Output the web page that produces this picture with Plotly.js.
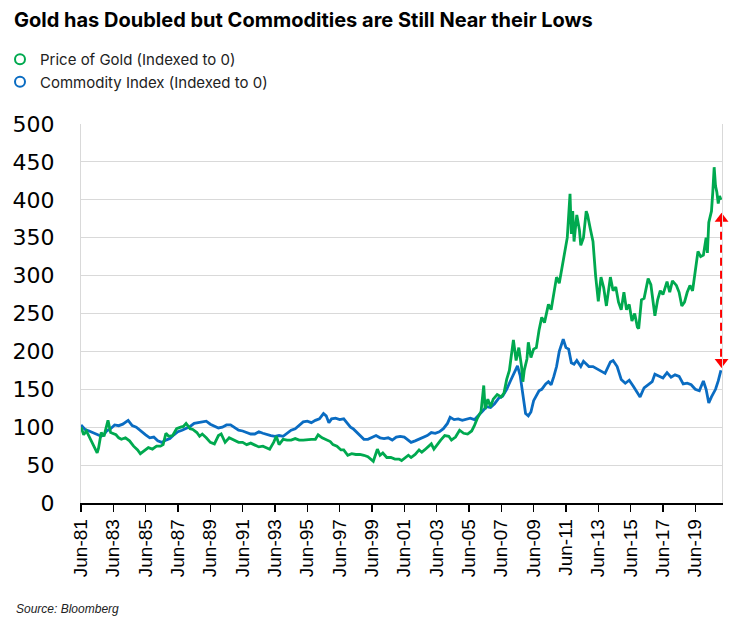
<!DOCTYPE html>
<html>
<head>
<meta charset="utf-8">
<script src="https://cdn.plot.ly/plotly-3.0.1.min.js"></script>
<style>html,body{margin:0;padding:0;background:#fff;}#chart{width:750px;height:631px;}</style>
</head>
<body>
<div id="chart"></div>
<script>
// Price of Gold (indexed)
const goldDates = ["1981-06","1981-08","1981-10","1981-12","1982-02","1982-04","1982-06","1982-07","1982-09","1982-11",
"1983-02","1983-04","1983-06","1983-08","1983-10","1983-12","1984-03","1984-06","1984-09","1984-12",
"1985-02","1985-05","1985-08","1985-11","1986-02","1986-05","1986-07","1986-09","1986-11","1987-02",
"1987-05","1987-08","1987-10","1987-12","1988-03","1988-05","1988-08","1988-10","1988-12","1989-03",
"1989-06","1989-09","1989-12","1990-02","1990-05","1990-08","1990-10","1990-12","1991-03","1991-06",
"1991-09","1991-12","1992-03","1992-06","1992-09","1992-12","1993-02","1993-05","1993-07","1993-09",
"1993-12","1994-03","1994-06","1994-09","1994-12","1995-03","1995-06","1995-09","1995-12","1996-02",
"1996-05","1996-08","1996-11","1997-01","1997-04","1997-07","1997-09","1997-12","1998-03","1998-06",
"1998-09","1998-12","1999-03","1999-07","1999-10","1999-12","2000-02","2000-05","2000-08","2000-11",
"2001-02","2001-04","2001-06","2001-09","2001-11","2002-02","2002-05","2002-07","2002-09","2002-12",
"2003-02","2003-04","2003-06","2003-09","2003-12","2004-03","2004-05","2004-08","2004-11","2005-02",
"2005-05","2005-08","2005-10","2005-12","2006-03","2006-05","2006-06","2006-08","2006-10","2006-12",
"2007-03","2007-06","2007-08","2007-10","2007-12","2008-02","2008-03","2008-05","2008-07","2008-09",
"2008-10","2008-11","2009-01","2009-02","2009-04","2009-06","2009-08","2009-10","2009-12","2010-02",
"2010-05","2010-07","2010-09","2010-11","2011-01","2011-03","2011-05","2011-07","2011-09","2011-10",
"2011-11","2011-12","2012-02","2012-04","2012-05","2012-07","2012-09","2012-10","2012-12","2013-02",
"2013-04","2013-06","2013-08","2013-10","2013-12","2014-03","2014-05","2014-07","2014-09","2014-11",
"2015-01","2015-03","2015-05","2015-07","2015-09","2015-11","2015-12","2016-02","2016-04","2016-07",
"2016-09","2016-11","2016-12","2017-02","2017-04","2017-06","2017-09","2017-11","2018-01","2018-04",
"2018-06","2018-08","2018-10","2018-12","2019-02","2019-04","2019-06","2019-08","2019-10","2019-12",
"2020-02","2020-03","2020-04","2020-06","2020-07","2020-08","2020-09","2020-10","2020-11","2020-12","2021-01"];
const goldValues = [100,90,95,88,80,75,66,72,93,88,
109,93,92,90,86,84,86,82,75,70,
65,69,73,71,75,75,77,92,88,89,
98,100,101,105,98,97,93,88,91,86,
80,78,89,91,80,86,84,83,80,80,
77,79,76,74,75,72,71,80,88,77,
84,83,83,85,83,83,84,84,84,90,
86,84,81,77,75,70,70,63,65,64,
64,63,61,55,71,63,66,60,60,58,
58,56,59,63,60,64,70,67,70,75,
78,71,76,83,89,88,83,87,96,92,
91,95,102,111,121,155,124,137,127,137,
143,140,145,163,175,200,215,188,205,180,
160,175,190,212,192,203,205,228,245,238,
262,255,275,298,290,310,330,350,408,355,
385,345,380,360,340,350,385,380,362,345,
300,266,298,284,260,298,280,285,265,255,
278,255,262,240,250,232,230,268,270,296,
288,260,247,268,280,275,292,278,293,287,
278,260,265,278,287,280,305,332,325,327,
350,330,370,385,410,443,418,410,395,405,400];

// Commodity Index (indexed)
const commDates = ["1981-06","1981-09","1981-12","1982-03","1982-06","1982-09","1982-11","1983-01","1983-04","1983-07",
"1983-10","1984-01","1984-05","1984-08","1984-11","1985-03","1985-06","1985-09","1985-12","1986-03",
"1986-06","1986-09","1986-12","1987-03","1987-06","1987-09","1987-12","1988-03","1988-06","1988-09",
"1988-12","1989-03","1989-06","1989-09","1989-12","1990-03","1990-06","1990-09","1990-12","1991-03",
"1991-06","1991-09","1991-12","1992-03","1992-06","1992-09","1992-12","1993-03","1993-06","1993-09",
"1993-12","1994-03","1994-06","1994-09","1994-12","1995-03","1995-06","1995-09","1995-12","1996-03",
"1996-06","1996-08","1996-10","1996-12","1997-03","1997-06","1997-09","1997-12","1998-02","1998-04",
"1998-07","1998-09","1998-12","1999-03","1999-06","1999-09","1999-12","2000-03","2000-06","2000-09",
"2000-12","2001-03","2001-06","2001-09","2001-11","2002-02","2002-05","2002-08","2002-11","2003-02",
"2003-05","2003-08","2003-11","2004-02","2004-04","2004-07","2004-10","2005-01","2005-04","2005-07",
"2005-10","2006-01","2006-04","2006-07","2006-10","2007-01","2007-04","2007-07","2007-10","2008-01",
"2008-04","2008-06","2008-08","2008-10","2008-12","2009-02","2009-04","2009-06","2009-08","2009-10",
"2009-12","2010-03","2010-05","2010-07","2010-09","2010-11","2011-01","2011-03","2011-04","2011-06",
"2011-08","2011-10","2011-12","2012-02","2012-05","2012-07","2012-09","2012-11","2013-02","2013-05",
"2013-08","2013-11","2014-03","2014-05","2014-08","2014-11","2015-02","2015-05","2015-08","2015-11",
"2016-01","2016-04","2016-07","2016-10","2016-12","2017-03","2017-06","2017-09","2017-12","2018-03",
"2018-06","2018-09","2018-12","2019-03","2019-06","2019-09","2019-12","2020-02","2020-04","2020-06",
"2020-09","2020-11","2021-01"];
const commValues = [103,97,95,93,90,88,90,95,98,103,
102,104,109,102,100,95,90,86,87,82,
80,83,85,90,94,96,98,101,105,106,
108,108,104,101,99,100,103,103,99,96,
95,93,91,91,94,92,90,89,88,89,
88,92,96,98,102,107,108,106,109,111,
118,115,106,111,112,110,111,104,100,98,
93,90,84,84,86,89,86,85,86,83,
87,88,87,82,80,82,84,87,89,93,
92,94,98,105,113,110,111,109,111,112,
110,115,121,127,126,131,138,141,150,162,
173,181,168,140,118,115,120,135,141,148,
150,157,160,156,167,180,200,212,216,205,
203,185,183,188,180,187,183,180,180,177,
174,171,186,188,180,163,158,162,154,146,
140,152,156,160,170,167,165,172,166,169,
167,157,158,156,150,148,161,150,132,140,
150,161,175];

// Dashed double arrow between the two series at the end
const arrowDates = ["2021-01-15","2021-01-15"];
const arrowValues = [375, 186];

// Axis ticks
const tickDates = ["1981-06-01","1983-06-01","1985-06-01","1987-06-01","1989-06-01","1991-06-01","1993-06-01","1995-06-01","1997-06-01","1999-06-01",
"2001-06-01","2003-06-01","2005-06-01","2007-06-01","2009-06-01","2011-06-01","2013-06-01","2015-06-01","2017-06-01","2019-06-01"];
const tickLabels = ["Jun-81","Jun-83","Jun-85","Jun-87","Jun-89","Jun-91","Jun-93","Jun-95","Jun-97","Jun-99",
"Jun-01","Jun-03","Jun-05","Jun-07","Jun-09","Jun-11","Jun-13","Jun-15","Jun-17","Jun-19"];

const GREEN = "#00A94F";
const BLUE = "#0A6CC2";

const traces = [
  {x: commDates, y: commValues, type: "scatter", mode: "lines", line: {color: BLUE, width: 2.8}, showlegend: false, hoverinfo: "skip"},
  {x: goldDates, y: goldValues, type: "scatter", mode: "lines", line: {color: GREEN, width: 2.8}, showlegend: false, hoverinfo: "skip"},
  {x: arrowDates, y: arrowValues, type: "scatter", mode: "lines+markers", cliponaxis: false,
   line: {color: "#FF0000", width: 3, dash: "8px,5px"},
   marker: {symbol: ["triangle-up","triangle-down"], size: 12, color: "#FF0000"}, showlegend: false, hoverinfo: "skip"},
  {x: [null], y: [null], type: "scatter", mode: "markers", name: "Price of Gold (Indexed to 0)",
   marker: {symbol: "circle-open", size: 10, color: GREEN, line: {width: 2, color: GREEN}}},
  {x: [null], y: [null], type: "scatter", mode: "markers", name: "Commodity Index (Indexed to 0)",
   marker: {symbol: "circle-open", size: 10, color: BLUE, line: {width: 2, color: BLUE}}}
];

const layout = {
  width: 750, height: 631,
  margin: {l: 81, r: 28, t: 124, b: 128, autoexpand: false},
  paper_bgcolor: "#fff", plot_bgcolor: "#fff",
  font: {family: "Liberation Sans, Arial, sans-serif", color: "#000"},
  title: {text: "Gold has Doubled but Commodities are Still Near their Lows",
    font: {family: "Inter, Liberation Sans, sans-serif", size: 20, weight: "bold", color: "#000"},
    xref: "container", x: 14/750, xanchor: "left", yref: "container", y: 1 - 20/631, yanchor: "middle"},
  legend: {xref: "container", yref: "container", x: 0, y: 1 - 43/631, xanchor: "left", yanchor: "top",
    font: {family: "Inter, Roboto, sans-serif", size: 15, color: "#222"}, itemwidth: 30, tracegroupgap: 0,
    bgcolor: "rgba(0,0,0,0)"},
  xaxis: {type: "date", range: ["1981-06-01", "2021-01-25"], tickmode: "array", tickvals: tickDates, ticktext: tickLabels,
    tickangle: -90, tickfont: {family: "Liberation Sans, Arial, sans-serif", size: 19, color: "#000"},
    showline: true, linecolor: "#000", linewidth: 1.5, ticks: "outside", ticklen: 7, tickcolor: "#000", tickwidth: 1.5,
    showgrid: false, zeroline: false},
  yaxis: {range: [0, 500], tickmode: "linear", tick0: 0, dtick: 50,
    tickfont: {family: "DejaVu Sans, sans-serif", size: 22, color: "#000"},
    showgrid: true, gridcolor: "#d9d9d9", gridwidth: 1, zeroline: false,
    showline: true, linecolor: "#d9d9d9", linewidth: 1, mirror: true,
    ticks: "outside", ticklen: 21, tickcolor: "rgba(0,0,0,0)"},
  annotations: [{text: "<i>Source: Bloomberg</i>", xref: "paper", yref: "paper", x: (14 - 81) / 641, y: (503 - 609) / 379,
    xanchor: "left", yanchor: "middle", showarrow: false, font: {family: "Liberation Sans, Arial, sans-serif", size: 12, color: "#222"}}]
};

Plotly.newPlot("chart", traces, layout, {displayModeBar: false, staticPlot: true});
</script>
</body>
</html>
